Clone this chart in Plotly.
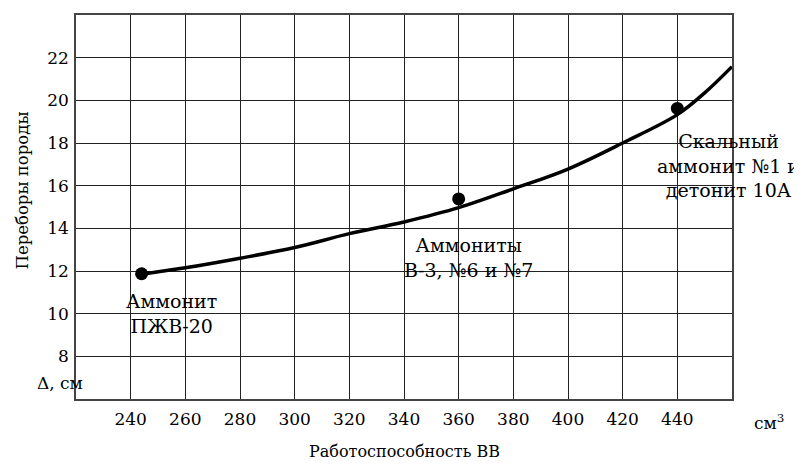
import plotly.graph_objects as go

# Data
point_x = [244, 360, 440]
point_y = [11.87, 15.38, 19.62]

curve_x = [244, 260, 280, 300, 320, 340, 360, 380, 400, 420, 440, 450, 460]
curve_y = [11.85, 12.15, 12.6, 13.1, 13.75, 14.3, 14.97, 15.85, 16.78, 18.0, 19.33, 20.35, 21.58]

x_ticks = [240, 260, 280, 300, 320, 340, 360, 380, 400, 420, 440]
y_ticks = [8, 10, 12, 14, 16, 18, 20, 22]

labels = ["Аммонит<br>ПЖВ-20", "Аммониты<br>В-3, №6 и №7", "Скальный<br>аммонит №1 и<br>детонит 10А"]
label_x = [254.9, 363.6, 458.6]
label_y = [10.02, 12.65, 16.94]

FONT = "DejaVu Serif"

fig = go.Figure()
fig.add_trace(go.Scatter(x=curve_x, y=curve_y, mode="lines",
                         line=dict(color="black", width=3.5, shape="spline", smoothing=1.0),
                         hoverinfo="skip", showlegend=False))
fig.add_trace(go.Scatter(x=point_x, y=point_y, mode="markers",
                         marker=dict(color="black", size=13),
                         showlegend=False))

for t, x, y in zip(labels, label_x, label_y):
    fig.add_annotation(x=x, y=y, xref="x", yref="y", text=t, showarrow=False,
                       font=dict(family=FONT, size=19, color="black"),
                       xanchor="center", yanchor="middle", align="center")

fig.add_annotation(x=0.5, y=-0.138, xref="paper", yref="paper", text="Работоспособность ВВ",
                   showarrow=False, font=dict(family=FONT, size=16, color="black"),
                   xanchor="center", yanchor="middle")
fig.add_annotation(x=-0.0823, y=0.543, xref="paper", yref="paper", text="Переборы породы",
                   showarrow=False, textangle=-90, font=dict(family=FONT, size=16.5, color="black"),
                   xanchor="center", yanchor="middle")
fig.add_annotation(x=-0.0244, y=0.0407, xref="paper", yref="paper", text="Δ, см",
                   showarrow=False, font=dict(family=FONT, size=17, color="black"),
                   xanchor="center", yanchor="middle")
fig.add_annotation(x=1.056, y=-0.0596, xref="paper", yref="paper", text="см<sup>3</sup>",
                   showarrow=False, font=dict(family=FONT, size=17, color="black"),
                   xanchor="center", yanchor="middle")

fig.update_layout(
    width=802, height=466,
    margin=dict(l=68, r=78, t=5, b=75),
    paper_bgcolor="white", plot_bgcolor="white",
    font=dict(family=FONT, size=17, color="black"),
    xaxis=dict(range=[220, 460], tickvals=x_ticks, ticktext=[str(v) for v in x_ticks],
               showgrid=True, gridcolor="#222", gridwidth=1,
               showline=True, linecolor="#444", linewidth=1.5, mirror=True,
               ticks="outside", ticklen=4, tickcolor="rgba(0,0,0,0)",
               zeroline=False, tickfont=dict(family=FONT, size=17, color="black")),
    yaxis=dict(range=[6, 24], tickvals=y_ticks, ticktext=[str(v) for v in y_ticks],
               showgrid=True, gridcolor="#222", gridwidth=1,
               showline=True, linecolor="#444", linewidth=1.5, mirror=True,
               ticks="outside", ticklen=2, tickcolor="rgba(0,0,0,0)",
               zeroline=False, tickfont=dict(family=FONT, size=17, color="black")),
)

fig.write_html("out.html")
